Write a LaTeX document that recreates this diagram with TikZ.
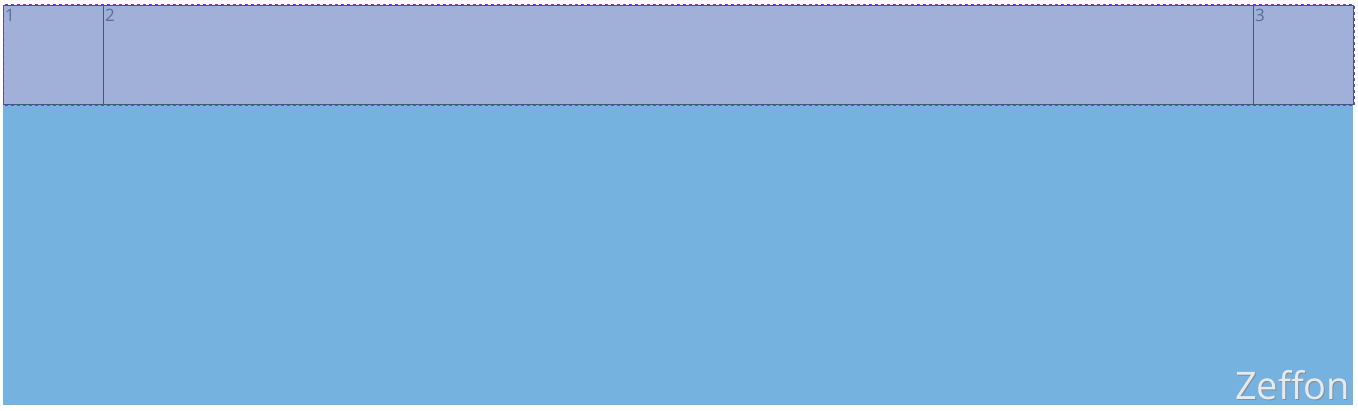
\documentclass[tikz,border=0pt]{standalone}
\usepackage{fontspec}
\setmainfont{Open Sans}
\usepackage{tikz}
\usetikzlibrary{positioning}
\usepackage{xcolor}
\definecolor{StageBlue}{HTML}{75B2E0}
\definecolor{CellLilac}{HTML}{A1B0D8}
\definecolor{EdgeNavy}{HTML}{3E5A7C}
\definecolor{EdgePurple}{HTML}{7A3FC8}
\definecolor{LabelGray}{HTML}{5A7090}
\definecolor{MarkWhite}{HTML}{E4EAF0}

\begin{document}
\begin{tikzpicture}[x=1pt, y=-1pt,
    cell/.style={draw=EdgeNavy, fill=CellLilac, line width=1.2pt, inner sep=0pt, minimum height=99pt},
    tag/.style={font=\fontsize{17}{17}\selectfont, text=LabelGray, inner xsep=2pt, inner ysep=4pt, anchor=north west},
    outline/.style={draw=EdgePurple, dashed, dash pattern=on 3pt off 3pt, line width=1pt}
  ]
    \useasboundingbox (0, 0) rectangle (1358, 411);
    \fill[white] (0, 0) rectangle (1358, 411);

    \node[fill=StageBlue, minimum width=1350pt, minimum height=400pt, inner sep=0pt, anchor=north west] (stage) at (3, 5) {};

    \node[cell, minimum width=100pt, anchor=north west] (left) at (3, 5) {};
    \node[cell, minimum width=1150pt, anchor=north west] (middle) at (103, 5) {};
    \node[cell, minimum width=100pt, anchor=north west] (right) at (1253, 5) {};
    \draw[outline] (left.north west) rectangle (right.south east);

    \node[tag] (tagA) at (left.north west) {1};
    \node[tag] (tagB) at (middle.north west) {2};
    \node[tag] (tagC) at (right.north west) {3};

    \node[font=\fontsize{38}{38}\selectfont, text=black!45, anchor=south east, inner sep=0pt] (markshade) at ([xshift=-2pt, yshift=4pt]stage.south east) {Zeffon};
    \node[font=\fontsize{38}{38}\selectfont, text=MarkWhite, anchor=south east, inner sep=0pt] (mark) at ([xshift=-3pt, yshift=5pt]stage.south east) {Zeffon};
  \end{tikzpicture}
\end{document}
